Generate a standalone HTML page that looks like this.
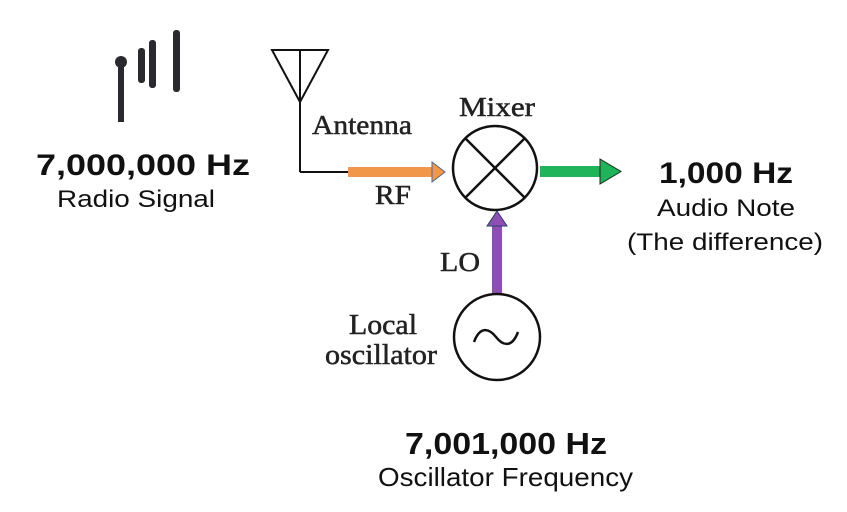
<!DOCTYPE html>
<html><head><meta charset="utf-8"><style>
html,body{margin:0;padding:0;background:#fff;width:847px;height:512px;overflow:hidden}
svg{display:block}
.b{font-family:"Liberation Sans",sans-serif;font-weight:bold;fill:#111}
.r{font-family:"Liberation Sans",sans-serif;fill:#111}
.s{font-family:"Liberation Serif",serif;fill:#222;stroke:#222;stroke-width:0.5}
</style></head><body>
<svg width="847" height="512" viewBox="0 0 847 512">
<g fill="#2a2a2e">
<circle cx="121" cy="62" r="6"/>
<rect x="118" y="62" width="6" height="60"/>
<rect x="138" y="48" width="7" height="35" rx="3"/>
<rect x="149" y="40" width="7" height="48" rx="3"/>
<rect x="173" y="30" width="7" height="62" rx="3"/>
</g>
<text class="b" x="36" y="175" font-size="30" textLength="214" lengthAdjust="spacingAndGlyphs">7,000,000 Hz</text>
<text class="r" x="57" y="207" font-size="24" textLength="158" lengthAdjust="spacingAndGlyphs">Radio Signal</text>
<g fill="none" stroke="#111" stroke-width="2">
<polygon points="272,50 328,50 300,102"/>
<line x1="300" y1="50" x2="300" y2="172"/>
<line x1="300" y1="172" x2="350" y2="172"/>
</g>
<text class="s" x="312" y="134" font-size="27" textLength="100" lengthAdjust="spacingAndGlyphs">Antenna</text>
<g>
<rect x="348" y="167" width="86" height="10" fill="#f0974a"/>
<polygon points="432,162 445,172 432,182" fill="#f0974a" stroke="#4a6a9a" stroke-width="1"/>
</g>
<text class="s" x="375" y="204" font-size="27" textLength="36" lengthAdjust="spacingAndGlyphs">RF</text>
<g fill="none" stroke="#111" stroke-width="2.5">
<circle cx="495" cy="168" r="42"/>
<line x1="465" y1="138" x2="525" y2="198"/>
<line x1="525" y1="138" x2="465" y2="198"/>
</g>
<text class="s" x="459" y="116" font-size="27" textLength="76" lengthAdjust="spacingAndGlyphs">Mixer</text>
<g>
<rect x="540" y="166" width="62" height="11" fill="#1fb35a"/>
<polygon points="600,159 621,171.5 600,184" fill="#1fb35a" stroke="#222" stroke-width="1"/>
</g>
<text class="b" x="659" y="183" font-size="30" textLength="134" lengthAdjust="spacingAndGlyphs">1,000 Hz</text>
<text class="r" x="657" y="216" font-size="24" textLength="138" lengthAdjust="spacingAndGlyphs">Audio Note</text>
<text class="r" x="627" y="250" font-size="24" textLength="196" lengthAdjust="spacingAndGlyphs">(The difference)</text>
<g>
<rect x="492" y="222" width="10" height="72" fill="#8e4fb5"/>
<polygon points="487,226 497,211 507,226" fill="#8e4fb5" stroke="#2a3a6a" stroke-width="1"/>
</g>
<text class="s" x="440" y="271" font-size="27" textLength="40" lengthAdjust="spacingAndGlyphs">LO</text>
<g fill="none" stroke="#111" stroke-width="2.5">
<circle cx="497" cy="337" r="43"/>
<path d="M474,342 C480,326 489,328 496,337 C503,346 512,348 518,332"/>
</g>
<text class="s" x="349" y="334" font-size="28" textLength="68" lengthAdjust="spacingAndGlyphs">Local</text>
<text class="s" x="325" y="364" font-size="28" textLength="112" lengthAdjust="spacingAndGlyphs">oscillator</text>
<text class="b" x="405" y="454" font-size="31" textLength="202" lengthAdjust="spacingAndGlyphs">7,001,000 Hz</text>
<text class="r" x="378" y="486" font-size="26" textLength="255" lengthAdjust="spacingAndGlyphs">Oscillator Frequency</text>
</svg>
</body></html>
